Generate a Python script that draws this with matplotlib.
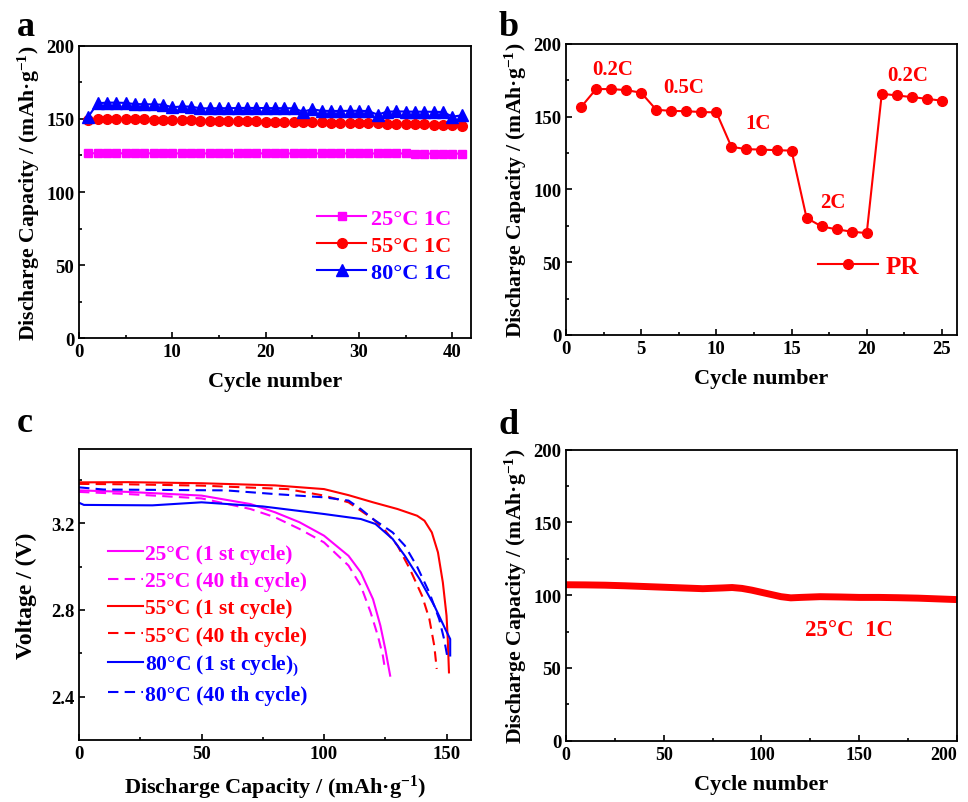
import numpy as np
import matplotlib
matplotlib.use("Agg")
import matplotlib.pyplot as plt
from matplotlib.ticker import MultipleLocator, AutoMinorLocator

plt.rcParams['font.family'] = ['Liberation Serif', 'DejaVu Serif']
plt.rcParams['font.weight'] = 'bold'
plt.rcParams['axes.labelweight'] = 'bold'
plt.rcParams['mathtext.default'] = 'regular'

MAG = '#ff00ff'
RED = '#ff0000'
BLUE = '#0000ff'

# ---- panel a: cycling at three temperatures
cyc_a = np.arange(1, 42)
cap_25 = [126.5, 126.6, 126.6, 126.5, 126.5, 126.5, 126.5, 126.5, 126.5, 126.4,
          126.5, 126.5, 126.4, 126.4, 126.4, 126.4, 126.4, 126.4, 126.4, 126.5,
          126.6, 126.4, 126.4, 126.4, 126.4, 126.4, 126.4, 126.4, 126.4, 126.4,
          126.4, 126.4, 126.4, 126.4, 126.4, 126.3, 126.3, 126.3, 126.3, 126.3,
          126.3]
cap_55 = [149.4, 150.2, 150.1, 150.1, 150.0, 149.9, 149.8, 149.6, 149.5, 149.3,
          149.2, 149.0, 148.9, 148.8, 148.7, 148.6, 148.5, 148.4, 148.3, 148.2,
          148.1, 148.0, 147.9, 147.8, 147.7, 147.6, 147.5, 147.4, 147.3, 147.2,
          147.1, 147.0, 146.9, 146.8, 146.7, 146.6, 146.4, 146.2, 146.0, 145.6,
          145.5]
cap_80 = [151.6, 160.8, 161.2, 161.2, 161.0, 160.2, 160.1, 160.0, 159.8, 158.0,
          158.6, 158.5, 157.3, 157.3, 157.4, 157.4, 157.5, 157.6, 157.5, 157.5,
          157.4, 157.4, 157.3, 155.0, 156.7, 155.6, 155.5, 155.5, 155.6, 155.6,
          155.4, 153.0, 155.0, 155.2, 155.1, 155.0, 155.0, 154.9, 154.8, 151.6,
          152.5]

# ---- panel b: rate performance
cyc_b = np.arange(1, 26)
cap_pr = [156.6, 169.0, 169.0, 168.3, 166.5, 154.8, 154.0, 153.8, 153.2, 153.0,
          129.3, 127.7, 127.4, 127.0, 126.7, 80.4, 74.6, 72.6, 71.0, 70.0,
          165.8, 164.6, 163.5, 162.3, 161.0]
rate_labels = ['0.2C', '0.5C', '1C', '2C', '0.2C']
rate_x = [3.1, 7.8, 12.8, 17.75, 22.7]
rate_y = [183, 170.5, 146, 91.5, 179]

# ---- panel c: discharge curves
q25_1 = [0, 20, 50, 70, 80, 90, 100, 110, 115, 120, 123, 125, 127]
v25_1 = [3.352, 3.345, 3.328, 3.289, 3.251, 3.205, 3.143, 3.05, 2.974, 2.85, 2.728, 2.62, 2.497]
q25_40 = [0, 20, 50, 70, 80, 90, 100, 110, 115, 119, 122, 124, 125]
v25_40 = [3.345, 3.335, 3.315, 3.266, 3.228, 3.174, 3.112, 3.005, 2.912, 2.79, 2.68, 2.59, 2.52]
q55_1 = [0, 20, 50, 80, 100, 110, 120, 130, 138, 141, 144, 146.5, 148.5, 150, 150.5, 151]
v55_1 = [3.389, 3.39, 3.385, 3.375, 3.358, 3.33, 3.297, 3.266, 3.235, 3.212, 3.158, 3.066, 2.927, 2.774, 2.666, 2.512]
q55_40 = [0, 20, 50, 85, 100, 110, 120, 125, 130, 135, 140, 143, 145, 146]
v55_40 = [3.382, 3.38, 3.374, 3.358, 3.328, 3.297, 3.22, 3.166, 3.097, 2.99, 2.866, 2.758, 2.635, 2.528]
q80_1 = [0, 2, 30, 50, 75, 100, 115, 121, 128, 133, 139, 145, 149.5, 151.5, 151.5]
v80_1 = [3.295, 3.285, 3.283, 3.297, 3.278, 3.243, 3.22, 3.197, 3.128, 3.05, 2.943, 2.82, 2.712, 2.666, 2.59]
q80_40 = [0, 10, 60, 80, 100, 110, 115, 120, 128, 133, 138, 143, 147, 149, 150.5]
v80_40 = [3.366, 3.356, 3.352, 3.335, 3.32, 3.305, 3.266, 3.22, 3.158, 3.097, 3.0, 2.88, 2.758, 2.666, 2.574]

# ---- panel d: long cycling at 25C 1C
cyc_d = [0, 10, 20, 30, 40, 50, 60, 70, 80, 85, 90, 95, 100, 105, 110, 115, 120,
         130, 140, 150, 160, 170, 180, 190, 200]
cap_d = [107.2, 107.1, 106.9, 106.5, 106.0, 105.5, 105.0, 104.5, 105.0, 105.3,
         104.7, 103.5, 102.0, 100.5, 99.0, 98.2, 98.5, 99.0, 98.8, 98.5, 98.5,
         98.3, 98.0, 97.5, 97.0]

ylab = 'Discharge Capacity / (mAh·g$^{-1}$)'

fig = plt.figure(figsize=(9.68, 8.03), dpi=100)
ax_a = fig.add_axes([0.0816, 0.5778, 0.405, 0.3637])
ax_b = fig.add_axes([0.5847, 0.5816, 0.4039, 0.3624])
ax_c = fig.add_axes([0.0816, 0.0772, 0.405, 0.3624])
ax_d = fig.add_axes([0.5847, 0.0763, 0.4039, 0.3624])


def style(ax):
    for s in ax.spines.values():
        s.set_linewidth(1.3)
    ax.tick_params(which='both', direction='in', top=False, right=False,
                   labelsize=13.5, width=1.2)
    ax.tick_params(which='major', length=4)
    ax.tick_params(which='minor', length=2.5)
    for lab in ax.get_xticklabels() + ax.get_yticklabels():
        lab.set_fontweight('bold')


# a
ax_a.plot(cyc_a, cap_25, color=MAG, marker='s', ms=6, lw=1.5, label='25°C 1C')
ax_a.plot(cyc_a, cap_55, color=RED, marker='o', ms=7, lw=1.5, label='55°C 1C')
ax_a.plot(cyc_a, cap_80, color=BLUE, marker='^', ms=8, lw=1.5, label='80°C 1C')
ax_a.set_xlim(0, 42)
ax_a.set_ylim(0, 200)
ax_a.xaxis.set_major_locator(MultipleLocator(10))
ax_a.xaxis.set_minor_locator(AutoMinorLocator(2))
ax_a.yaxis.set_major_locator(MultipleLocator(50))
ax_a.yaxis.set_minor_locator(AutoMinorLocator(2))
ax_a.set_xlabel('Cycle number', fontsize=16, labelpad=8)
ax_a.set_ylabel(ylab, fontsize=15.7, labelpad=3)
leg = ax_a.legend(loc='lower right', bbox_to_anchor=(1.0, 0.12), frameon=False,
                  fontsize=16, handlelength=2.2, labelspacing=0.3, handletextpad=0.2)
for t, c in zip(leg.get_texts(), [MAG, RED, BLUE]):
    t.set_color(c)
style(ax_a)

# b
ax_b.plot(cyc_b, cap_pr, color=RED, marker='o', ms=7, lw=1.5, label='PR')
for lab, x, y in zip(rate_labels, rate_x, rate_y):
    ax_b.text(x, y, lab, color=RED, fontsize=15, fontweight='bold',
              ha='center', va='center')
ax_b.set_xlim(0, 26)
ax_b.set_ylim(0, 200)
ax_b.xaxis.set_major_locator(MultipleLocator(5))
ax_b.xaxis.set_minor_locator(AutoMinorLocator(2))
ax_b.yaxis.set_major_locator(MultipleLocator(50))
ax_b.yaxis.set_minor_locator(AutoMinorLocator(2))
ax_b.set_xlabel('Cycle number', fontsize=16, labelpad=8)
ax_b.set_ylabel(ylab, fontsize=15.7, labelpad=3)
leg = ax_b.legend(loc='lower right', bbox_to_anchor=(0.96, 0.12), frameon=False,
                  fontsize=18, handlelength=2.4, handletextpad=0.3)
leg.get_texts()[0].set_color(RED)
style(ax_b)

# c
ax_c.plot(q25_1, v25_1, color=MAG, lw=1.5, label='25°C (1 st cycle)')
ax_c.plot(q25_40, v25_40, color=MAG, lw=1.5, ls=(0, (5, 3)), label='25°C (40 th cycle)')
ax_c.plot(q55_1, v55_1, color=RED, lw=1.5, label='55°C (1 st cycle)')
ax_c.plot(q55_40, v55_40, color=RED, lw=1.5, ls=(0, (5, 3)), label='55°C (40 th cycle)')
ax_c.plot(q80_1, v80_1, color=BLUE, lw=1.5, label='80°C (1 st cycle)$_{)}$')
ax_c.plot(q80_40, v80_40, color=BLUE, lw=1.5, ls=(0, (5, 3)), label='80°C (40 th cycle)')
ax_c.set_xlim(0, 160)
ax_c.set_ylim(2.2, 3.543)
ax_c.xaxis.set_major_locator(MultipleLocator(50))
ax_c.xaxis.set_minor_locator(AutoMinorLocator(2))
ax_c.set_yticks([2.4, 2.8, 3.2])
ax_c.set_yticks([2.6, 3.0, 3.4], minor=True)
ax_c.set_xlabel('Discharge Capacity / (mAh·g$^{-1}$)', fontsize=16, labelpad=8)
ax_c.set_ylabel('Voltage / (V)', fontsize=17, labelpad=10)
leg = ax_c.legend(loc='lower left', bbox_to_anchor=(0.025, 0.055), frameon=False,
                  fontsize=15.5, handlelength=1.6, labelspacing=0.33, handletextpad=0.1)
for t, c in zip(leg.get_texts(), [MAG, MAG, RED, RED, BLUE, BLUE]):
    t.set_color(c)
style(ax_c)

# d
ax_d.plot(cyc_d, cap_d, color=RED, lw=5, solid_capstyle='butt')
ax_d.text(145, 76.5, '25°C  1C', color=RED, fontsize=16.5, fontweight='bold',
          ha='center', va='center')
ax_d.set_xlim(0, 200)
ax_d.set_ylim(0, 200)
ax_d.set_xticks([0, 50, 100, 150, 200])
ax_d.xaxis.set_minor_locator(AutoMinorLocator(2))
ax_d.yaxis.set_major_locator(MultipleLocator(50))
ax_d.yaxis.set_minor_locator(AutoMinorLocator(2))
ax_d.set_xlabel('Cycle number', fontsize=16, labelpad=8)
ax_d.set_ylabel(ylab, fontsize=15.7, labelpad=3)
style(ax_d)
ax_d.tick_params(axis='x', labelsize=13)
# the last label sits at the figure edge; keep it inside
ax_d.xaxis.get_major_ticks()[-1].label1.set_horizontalalignment('right')

for lab, x, y in [('a', 0.017, 0.955), ('b', 0.515, 0.955),
                  ('c', 0.017, 0.462), ('d', 0.515, 0.46)]:
    fig.text(x, y, lab, fontsize=26, fontweight='bold', va='baseline')

fig.savefig('out.png', dpi=100)
